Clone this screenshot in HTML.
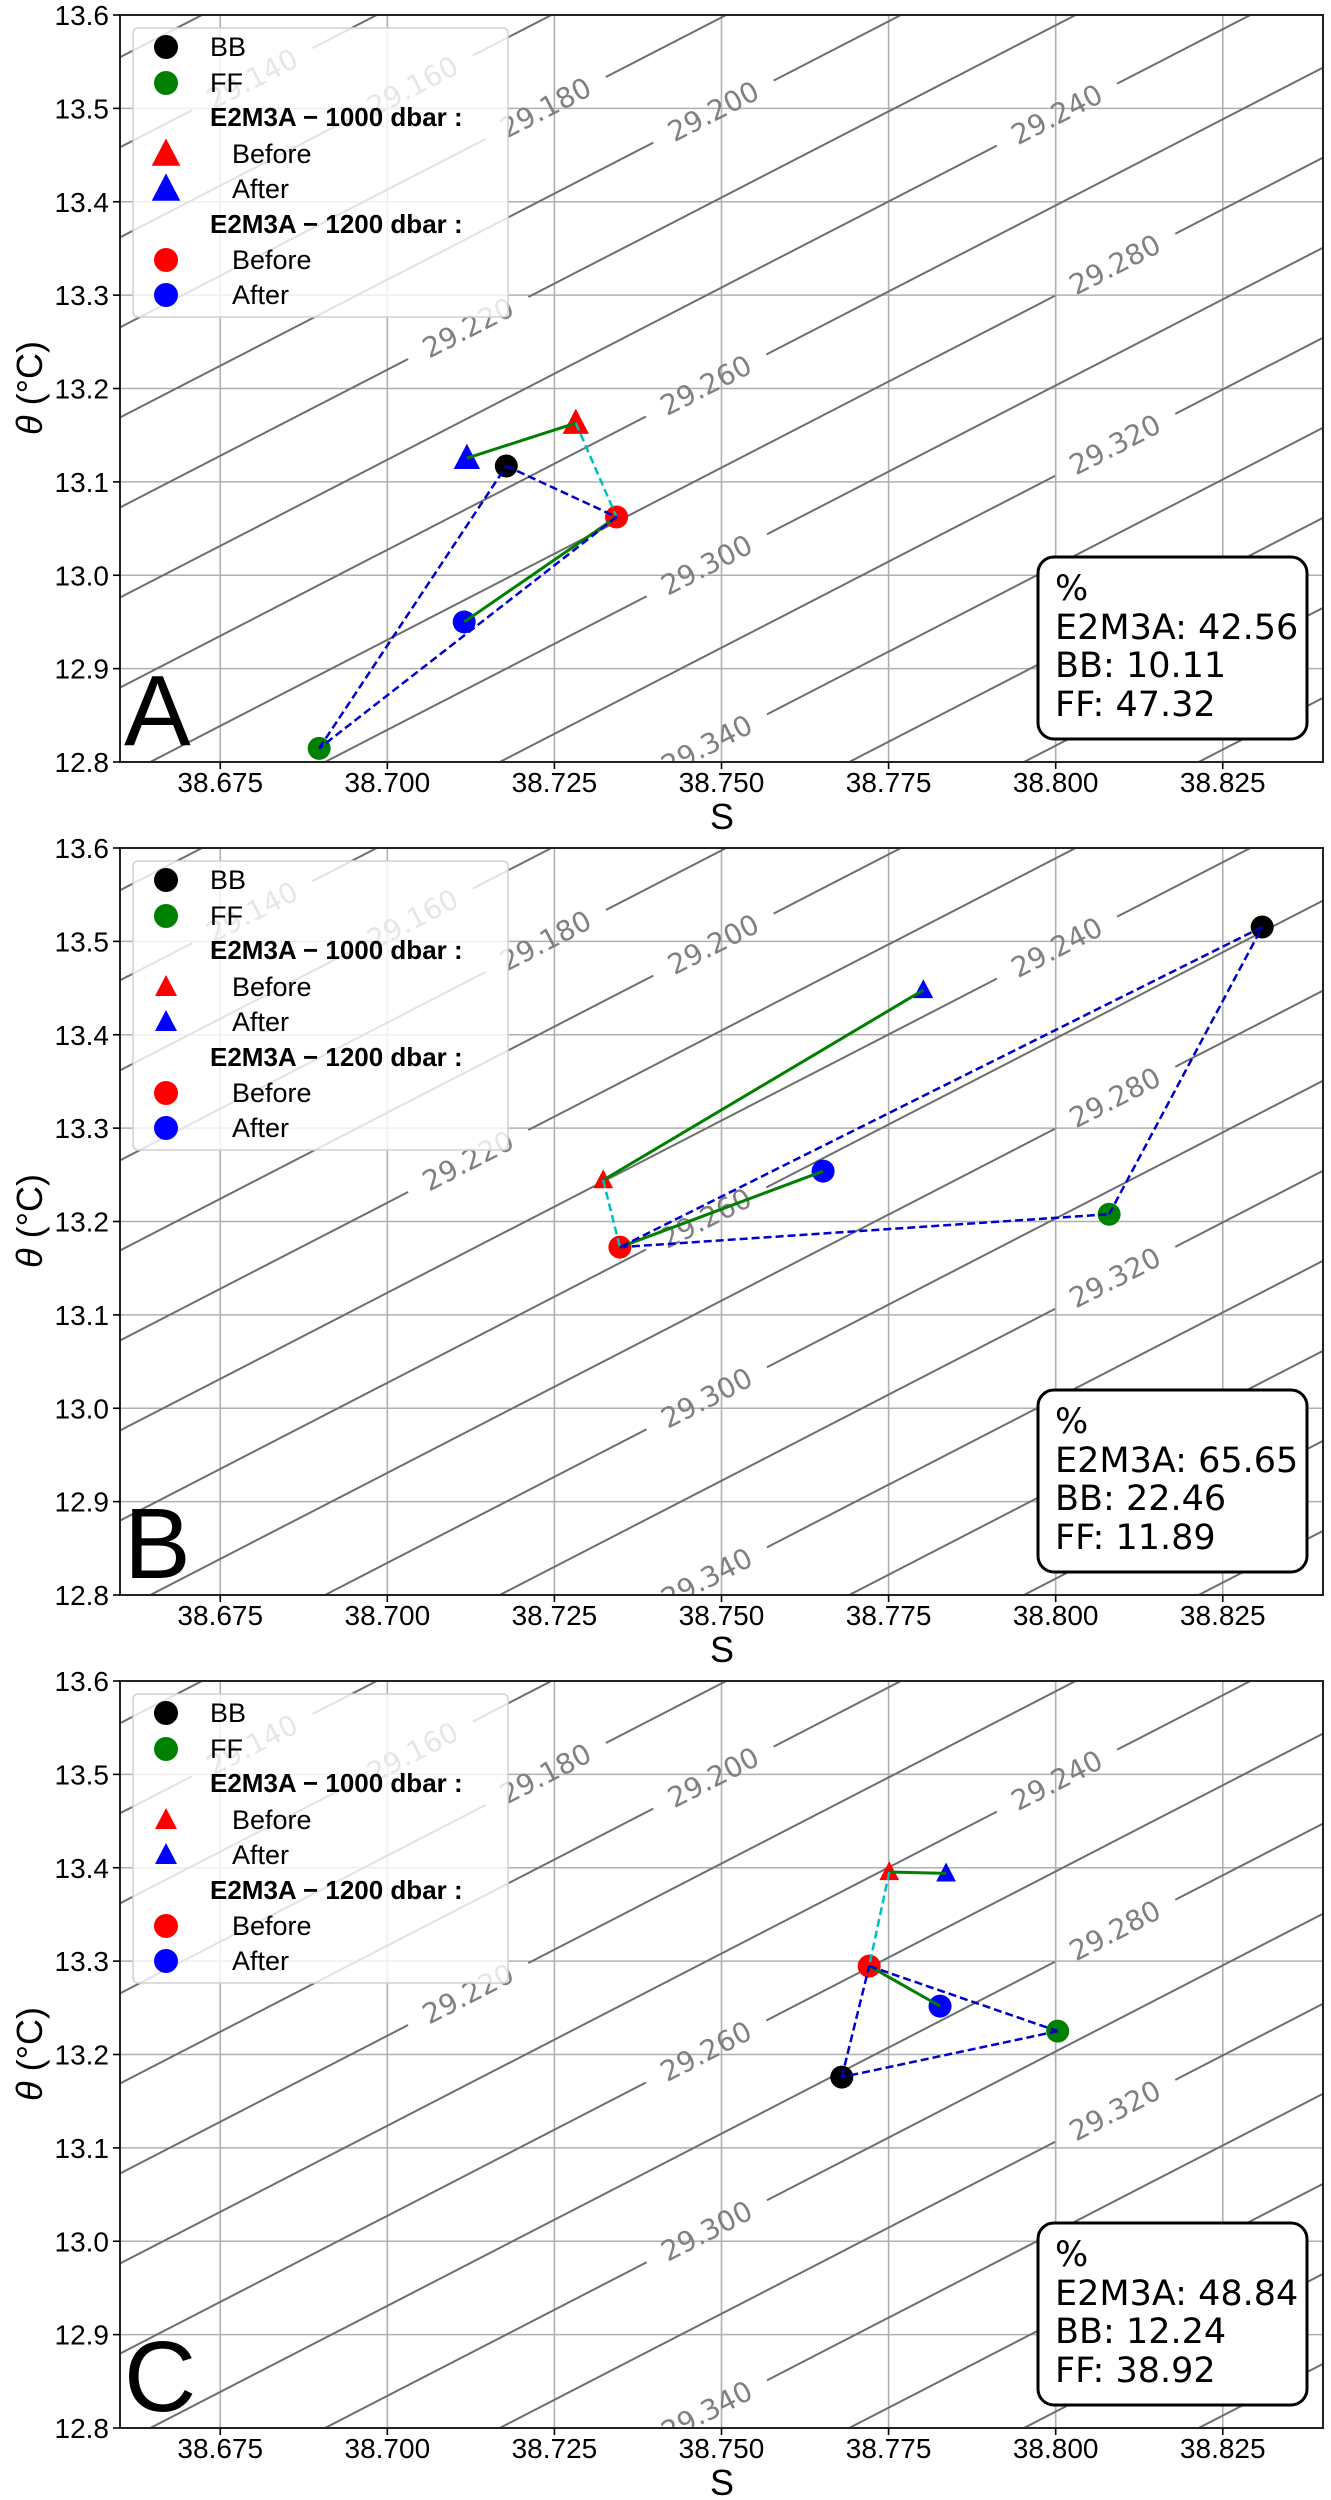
<!DOCTYPE html>
<html><head><meta charset="utf-8">
<style>
html,body{margin:0;padding:0;background:#fff;width:1331px;height:2500px;overflow:hidden;}
svg{display:block;font-family:"Liberation Sans","DejaVu Sans",sans-serif;}
</style></head>
<body>
<svg id="chart" width="1331" height="2500" viewBox="0 0 1331 2500" xmlns="http://www.w3.org/2000/svg">
<defs><clipPath id="plotclip"><rect x="120" y="15" width="1203" height="747"/></clipPath></defs>
</svg>
<script>
// ---- data ----
const panelNames = ["A", "B", "C"];
const xTicks = [38.675, 38.700, 38.725, 38.750, 38.775, 38.800, 38.825];
const yTicks = [12.8, 12.9, 13.0, 13.1, 13.2, 13.3, 13.4, 13.5, 13.6];
const contourLevels = [29.12,29.14,29.16,29.18,29.20,29.22,29.24,29.26,29.28,29.30,29.32,29.34,29.36,29.38,29.40];
const labelLevels = [29.14,29.16,29.18,29.20,29.22,29.24,29.26,29.28,29.30,29.32,29.34,29.36];
const labelS = [38.6798,38.7038,38.7237,38.7488,38.7121,38.8002,38.7477,38.8089,38.7478,38.8089,38.7478,38.8168];
// points per panel: [S, T]
const bbPts   = [[38.7178,13.117],[38.8309,13.5154],[38.7680,13.1758]];
const ffPts   = [[38.6898,12.8146],[38.8080,13.2078],[38.8003,13.2250]];
const tri1000Before = [[38.7282,13.163],[38.7323,13.2443],[38.7751,13.3954]];
const tri1000After  = [[38.7119,13.1254],[38.7802,13.4479],[38.7836,13.394]];
const c1200Before   = [[38.7343,13.0624],[38.7348,13.1725],[38.7721,13.2947]];
const c1200After    = [[38.7115,12.950],[38.7652,13.2539],[38.7827,13.2518]];
const pctE2M3A = ["42.56","65.65","48.84"];
const pctBB = ["10.11","22.46","12.24"];
const pctFF = ["47.32","11.89","38.92"];

// ---- layout ----
const X0=120, X1=1323, XMIN=38.66, XMAX=38.84;
const YT=15, YB=762, TMIN=12.8, TMAX=13.6, PANEL_DY=833;
const sx = s => X0 + (s-XMIN)/(XMAX-XMIN)*(X1-X0);
const sy = (t,off) => off + YT + (TMAX-t)/(TMAX-TMIN)*(YB-YT);
// linear density model
const tOnLevel = (lev,s) => 13.0107 + (0.765*(s-38.7478) - (lev-29.300))/0.2074;

const NS="http://www.w3.org/2000/svg";
const svg=document.getElementById('chart');
function mk(tag,attrs,parent){const e=document.createElementNS(NS,tag);for(const k in attrs)e.setAttribute(k,attrs[k]);(parent||svg).appendChild(e);return e;}

const angle = Math.atan2(-(3.689*933.3), 1203/0.18)*180/Math.PI;
const gapS = 0.009;

panelNames.forEach((pn,i)=>{
  const off=i*PANEL_DY;
  const g=mk('g',{});
  
  
  const cg=mk('g',{transform:`translate(0,${off})`,'clip-path':'url(#plotclip)'},g);
  // grid
  xTicks.forEach(v=>{const l=mk('line',{x1:sx(v),x2:sx(v),y1:YT,y2:YB,stroke:'#b0b0b0','stroke-width':1.6},cg);
    });
  yTicks.forEach(v=>{const l=mk('line',{x1:X0,x2:X1,y1:sy(v,0),y2:sy(v,0),stroke:'#b0b0b0','stroke-width':1.6},cg);
    });
  // contours
  contourLevels.forEach(lev=>{
    const li=labelLevels.findIndex(v=>Math.abs(v-lev)<1e-6);
    const segs = li>=0 ? [[XMIN-0.05,labelS[li]-gapS],[labelS[li]+gapS,XMAX+0.05]] : [[XMIN-0.05,XMAX+0.05]];
    segs.forEach(([a,b])=>{
      const l=mk('line',{x1:sx(a),y1:sy(tOnLevel(lev,a),0),x2:sx(b),y2:sy(tOnLevel(lev,b),0),stroke:'#6e6e6e','stroke-width':2},cg);
      
    });
    if(li>=0){
      const cx=sx(labelS[li]), cy=sy(tOnLevel(lev,labelS[li]),0);
      const t=mk('text',{x:cx,y:cy,'font-size':28,fill:'#808080','text-anchor':'middle','dominant-baseline':'central',
        transform:`rotate(${angle} ${cx} ${cy})`,'font-family':'"DejaVu Sans","Liberation Sans",sans-serif'},cg);
      t.textContent=lev.toFixed(3);
      
    }
  });
  // markers
  const circ=(p,col,r,name)=>{const c=mk('circle',{cx:sx(p[0]),cy:sy(p[1],0),r:r,fill:col},cg);
    };
  const tri=(p,col,h,name)=>{const x=sx(p[0]),y=sy(p[1],0);
    const t=mk('polygon',{points:`${x},${y-h*0.6} ${x-h*0.55},${y+h*0.45} ${x+h*0.55},${y+h*0.45}`,fill:col},cg);
    };
  const triH = i===0?24:18;
  circ(bbPts[i],'#000',11.5,'bb-point');
  circ(ffPts[i],'#008000',11.5,'ff-point');
  circ(c1200Before[i],'#ff0000',11.5,'e2m3a-1200-before-point');
  circ(c1200After[i],'#0000ff',11.5,'e2m3a-1200-after-point');
  tri(tri1000Before[i],'#ff0000',triH,'e2m3a-1000-before-point');
  tri(tri1000After[i],'#0000ff',triH,'e2m3a-1000-after-point');
  // lines
  const ln=(a,b,col,dash,w,name)=>{const l=mk('line',{x1:sx(a[0]),y1:sy(a[1],0),x2:sx(b[0]),y2:sy(b[1],0),stroke:col,'stroke-width':w},cg);
    if(dash)l.setAttribute('stroke-dasharray',dash);
    };
  ln(tri1000Before[i],tri1000After[i],'#008000',null,3,'change-1000-line');
  ln(c1200Before[i],c1200After[i],'#008000',null,3,'change-1200-line');
  ln(tri1000Before[i],c1200Before[i],'#00bfbf','8 4',2.5,'before-depth-link');
  ln(bbPts[i],c1200Before[i],'#0000cd','8 4',2.5,'mixing-line-bb-e2m3a');
  ln(c1200Before[i],ffPts[i],'#0000cd','8 4',2.5,'mixing-line-e2m3a-ff');
  ln(ffPts[i],bbPts[i],'#0000cd','8 4',2.5,'mixing-line-ff-bb');
  // frame
  const fr=mk('rect',{x:X0,y:YT+off,width:X1-X0,height:YB-YT,fill:'none',stroke:'#222','stroke-width':2},g);
  
  // ticks
  xTicks.forEach(v=>{
    mk('line',{x1:sx(v),x2:sx(v),y1:YB+off,y2:YB+off+7,stroke:'#000','stroke-width':1.6},g);
    const t=mk('text',{x:sx(v),y:YB+off+30,'font-size':28,'text-anchor':'middle'},g);
    t.textContent=v.toFixed(3);
  });
  yTicks.forEach(v=>{
    mk('line',{x1:X0-7,x2:X0,y1:sy(v,off),y2:sy(v,off),stroke:'#000','stroke-width':1.6},g);
    const t=mk('text',{x:X0-11,y:sy(v,off)+10,'font-size':28,'text-anchor':'end'},g);
    t.textContent=v.toFixed(1);
  });
  const xl=mk('text',{x:722,y:off+829,'font-size':36,'text-anchor':'middle'},g);
  xl.textContent='S';
  const yl=mk('text',{x:0,y:0,'font-size':36,'text-anchor':'middle',transform:`translate(42 ${off+388}) rotate(-90)`},g);
  yl.innerHTML='<tspan font-style="italic">θ</tspan> (°C)';
  
  // panel letter
  const pl=mk('text',{x:124,y:off+745,'font-size':100},g);
  pl.textContent=pn;
  // legend
  const lg=mk('g',{transform:`translate(0,${off})`},g);
  
  mk('rect',{x:133,y:28,width:375,height:289,rx:5,fill:'#fff','fill-opacity':0.8,stroke:'#d0d0d0','stroke-width':1.5},lg);
  const rows=[47,83,117,154,189,224,260,295];
  const entry=(row,kind,col,label,tx,bold,name)=>{
    const eg=mk('g',{},lg);
    
    const y=rows[row];
    if(kind==='c')mk('circle',{cx:166,cy:y,r:12,fill:col},eg);
    if(kind==='t'){const h=i===0?26:20;mk('polygon',{points:`166,${y-h*0.6} ${166-h*0.55},${y+h*0.45} ${166+h*0.55},${y+h*0.45}`,fill:col},eg);}
    const t=mk('text',{x:tx,y:y+9,'font-size':bold?26:27,'font-weight':bold?'bold':'normal'},eg);
    t.textContent=label;
  };
  entry(0,'c','#000','BB',210,false,'legend-entry-bb');
  entry(1,'c','#008000','FF',210,false,'legend-entry-ff');
  entry(2,null,null,'E2M3A  −  1000 dbar :',210,true,'legend-header-1000');
  entry(3,'t','#ff0000','Before',232,false,'legend-entry-1000-before');
  entry(4,'t','#0000ff','After',232,false,'legend-entry-1000-after');
  entry(5,null,null,'E2M3A  −  1200 dbar :',210,true,'legend-header-1200');
  entry(6,'c','#ff0000','Before',232,false,'legend-entry-1200-before');
  entry(7,'c','#0000ff','After',232,false,'legend-entry-1200-after');
  // percentage box
  const bx=mk('g',{transform:`translate(0,${off})`},g);
  
  mk('rect',{x:1038,y:557,width:269,height:182,rx:16,fill:'#fff',stroke:'#000','stroke-width':3},bx);
  const lines=['%','E2M3A: '+pctE2M3A[i],'BB: '+pctBB[i],'FF: '+pctFF[i]];
  const bys=[600,639,677,716];
  lines.forEach((s,k)=>{const t=mk('text',{x:1055,y:bys[k],'font-size':35,'font-family':'"DejaVu Sans","Liberation Sans",sans-serif'},bx);t.textContent=s;});
});
</script>
</body></html>
